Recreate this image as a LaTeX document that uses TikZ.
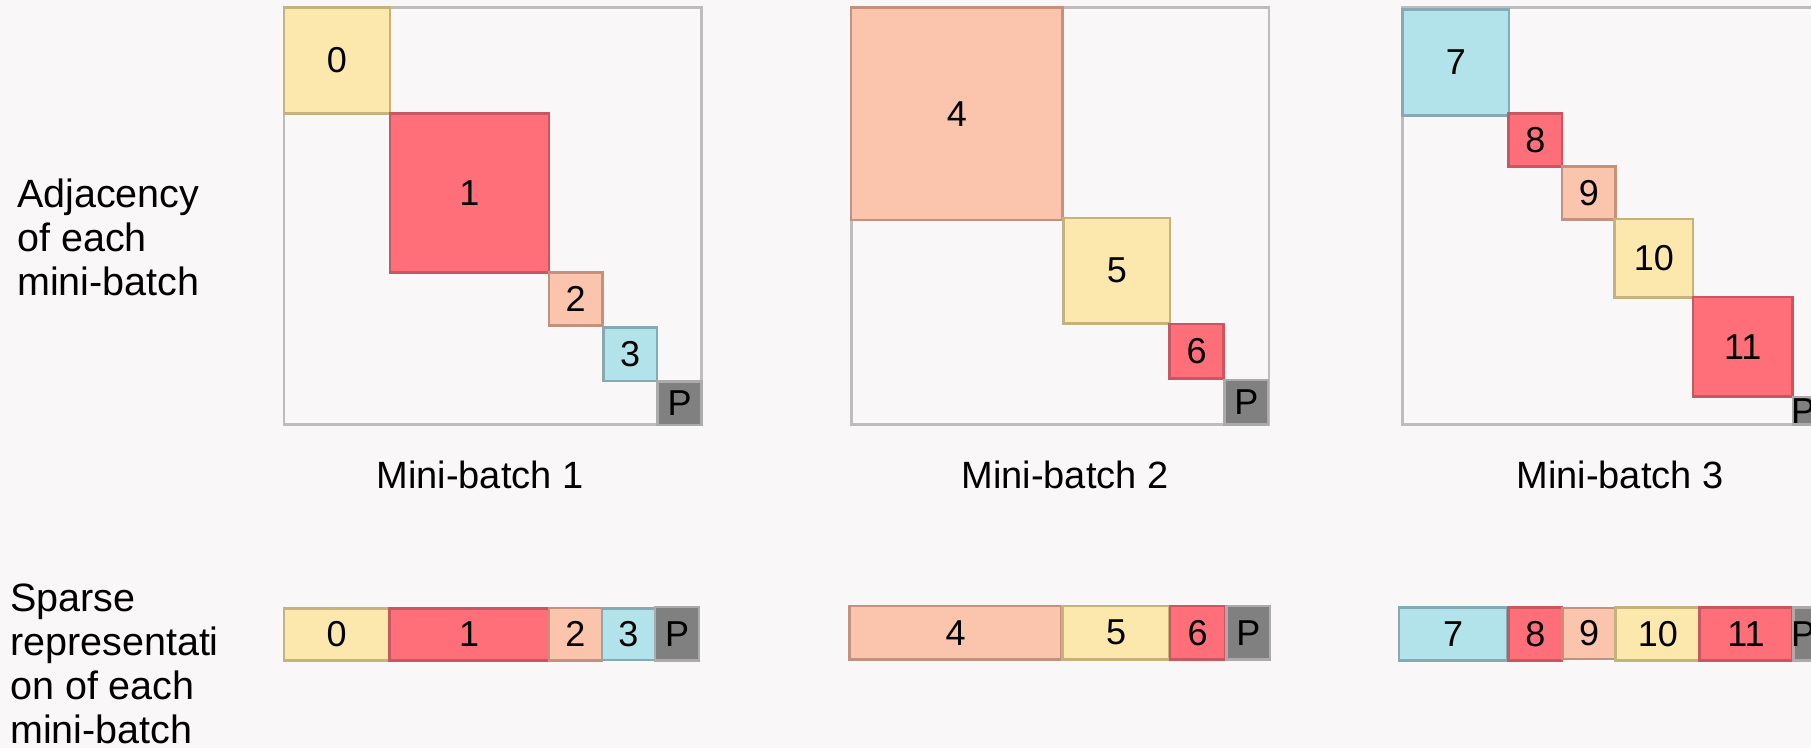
\documentclass[tikz,border=0pt]{standalone}
\usepackage{fontspec}
\setmainfont{Liberation Sans}
\definecolor{bgC}{HTML}{F9F7F8}
\definecolor{frameC}{HTML}{BDBDBD}
\definecolor{yelF}{HTML}{FCE8AC}
\definecolor{yelD}{HTML}{C6B27C}
\definecolor{redF}{HTML}{FF6F79}
\definecolor{redD}{HTML}{C95761}
\definecolor{salF}{HTML}{FBC4AC}
\definecolor{salD}{HTML}{C4917D}
\definecolor{bluF}{HTML}{B3E3EA}
\definecolor{bluD}{HTML}{86AAB4}
\definecolor{gryF}{HTML}{808080}
\definecolor{gryD}{HTML}{ABABAB}
\newcommand\blk[7]{%
  \draw[#1] (#2,#3) rectangle (#4,#5);
  \node[lbl] (#7) at ({(#2+#4)/2},{(#3+#5)/2}) {#6};}
\begin{document}
\begin{tikzpicture}[x=1pt,y=-1pt,
  lbl/.style={inner sep=0pt, font=\fontsize{36}{40}\selectfont, text=black},
  captxt/.style={inner sep=0pt, font=\fontsize{38}{44}\selectfont, anchor=base},
  sidetxt/.style={inner sep=0pt, font=\fontsize{39.5}{44}\selectfont, anchor=base west},
  outerbox/.style={draw=frameC, line width=2.5pt},
  yelB/.style={fill=yelF, draw=yelD, line width=2.5pt},
  redB/.style={fill=redF, draw=redD, line width=2.5pt},
  salB/.style={fill=salF, draw=salD, line width=2.5pt},
  bluB/.style={fill=bluF, draw=bluD, line width=2.5pt},
  gryB/.style={fill=gryF, draw=gryD, line width=2.5pt}]
\fill[bgC] (0,0) rectangle (1811,748);
\useasboundingbox (0,0) rectangle (1811,748);
\clip (0,0) rectangle (1811,748);

% side labels
\node[sidetxt] (adj1) at (17,207) {Adjacency};
\node[sidetxt] (adj2) at (17,251) {of each};
\node[sidetxt] (adj3) at (17,295) {mini-batch};
\node[sidetxt] (sp1) at (10,611) {Sparse};
\node[sidetxt] (sp2) at (10,655) {representati};
\node[sidetxt] (sp3) at (10,699) {on of each};
\node[sidetxt] (sp4) at (10,743) {mini-batch};

% matrix 1
\draw[outerbox] (284,7.5) rectangle (701.5,424.5);
\blk{yelB}{284}{7.5}{390}{113.5}{0}{a0}
\blk{redB}{390}{113.5}{549}{272.5}{1}{a1}
\blk{salB}{549}{272.5}{602.5}{325.5}{2}{a2}
\blk{bluB}{603.5}{327.5}{657}{381}{3}{a3}
\blk{gryB}{657.5}{381.5}{701.5}{425}{P}{aP}
\node[captxt] (cap1) at (480,488.5) {Mini-batch 1};

% matrix 2
\draw[outerbox] (851.5,7.5) rectangle (1269,424.5);
\blk{salB}{851}{7.5}{1062.5}{220}{4}{b4}
\blk{yelB}{1063.5}{218}{1170}{323.5}{5}{b5}
\blk{redB}{1169.5}{324}{1223.5}{378.5}{6}{b6}
\blk{gryB}{1224.5}{380}{1268}{424.5}{P}{bP}
\node[captxt] (cap2) at (1065,488.5) {Mini-batch 2};

% matrix 3
\draw[outerbox] (1402.5,7.5) rectangle (1850,424.5);
\blk{bluB}{1402.5}{9.5}{1509}{115.5}{7}{c7}
\blk{redB}{1508.5}{113.5}{1562}{166.5}{8}{c8}
\blk{salB}{1562}{166.5}{1615.5}{219.5}{9}{c9}
\blk{yelB}{1614.5}{219}{1693}{297.5}{10}{c10}
\blk{redB}{1693}{297}{1792.5}{396.5}{11}{c11}
\draw[gryB] (1793,397) rectangle (1850,424.5);
\node[lbl, anchor=west] (cP) at (1791,411) {P};
\node[captxt] (cap3) at (1620,488.5) {Mini-batch 3};

% sparse bars
\blk{yelB}{284}{608.5}{389.5}{660.5}{0}{s0}
\blk{redB}{389.5}{608.5}{549}{660.5}{1}{s1}
\blk{salB}{549}{608}{602}{660.5}{2}{s2}
\blk{bluB}{602}{608.5}{655}{660}{3}{s3}
\blk{gryB}{655}{607}{699}{660.5}{P}{sP}

\blk{salB}{849.5}{606}{1061.5}{659.5}{4}{t4}
\blk{yelB}{1062.5}{606}{1169.5}{659.5}{5}{t5}
\blk{redB}{1170}{606}{1225}{659.5}{6}{t6}
\blk{gryB}{1226.5}{606}{1270}{659.5}{P}{tP}

\blk{bluB}{1399}{607.5}{1507}{660.5}{7}{u7}
\blk{redB}{1508.5}{607.5}{1562}{660.5}{8}{u8}
\blk{salB}{1562.5}{608}{1615.5}{659}{9}{u9}
\blk{yelB}{1615.5}{607.5}{1700}{660.5}{10}{u10}
\blk{redB}{1699.5}{607.5}{1792.5}{660.5}{11}{u11}
\draw[gryB] (1793.5,607.5) rectangle (1850,660.5);
\node[lbl, anchor=west] (uP) at (1791,634) {P};
\end{tikzpicture}
\end{document}
